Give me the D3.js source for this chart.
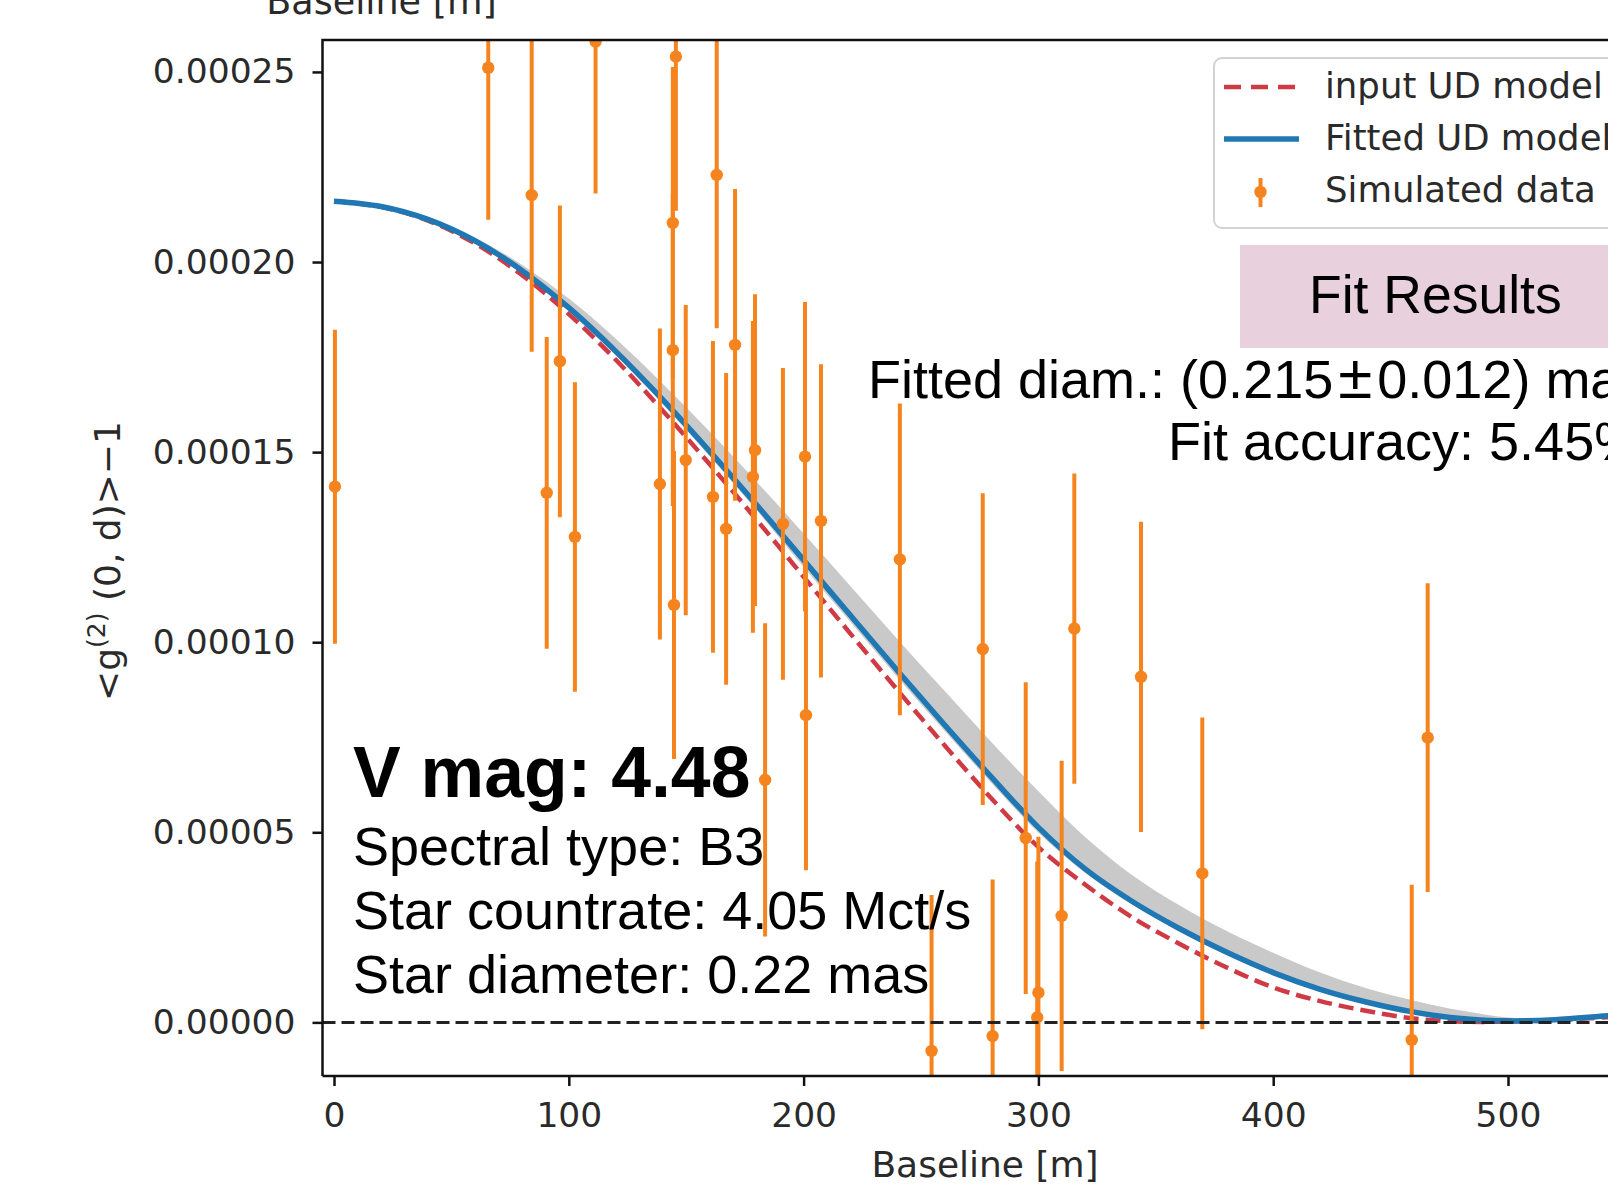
<!DOCTYPE html>
<html><head><meta charset="utf-8">
<script src="https://cdn.jsdelivr.net/npm/d3@7"></script>
<style>body{margin:0;background:#fff;} svg{display:block;background:#fff;}</style>
</head><body>
<svg id="chart" width="1608" height="1187"></svg>
<script>
// ---- Data ----
const baseline = [0.4, 65.7, 84.2, 90.6, 96.2, 102.6, 111.4, 138.8, 144.3, 144.3, 144.8, 145.6, 149.8,
  161.4, 163.0, 167.0, 170.8, 178.4, 179.3, 183.6, 191.2, 200.6, 201.0, 207.4, 241.0, 254.5,
  276.3, 280.5, 294.6, 299.5, 300.0, 309.9, 315.3, 343.7, 369.8, 459.0, 465.8];
const g2 = [1.409e-4, 2.511e-4, 2.176e-4, 1.393e-4, 1.739e-4, 1.277e-4, 2.580e-4, 1.416e-4, 2.103e-4,
  1.768e-4, 1.098e-4, 2.540e-4, 1.479e-4, 1.382e-4, 2.229e-4, 1.298e-4, 1.782e-4, 1.435e-4, 1.505e-4,
  0.638e-4, 1.311e-4, 1.488e-4, 0.808e-4, 1.319e-4, 1.218e-4, -0.075e-4, 0.982e-4, -0.036e-4,
  0.485e-4, 0.013e-4, 0.078e-4, 0.280e-4, 1.036e-4, 0.909e-4, 0.392e-4, -0.046e-4, 0.749e-4];
const g2err = [4.13e-5, 4.0e-5, 4.12e-5, 4.1e-5, 4.1e-5, 4.07e-5, 4.0e-5, 4.09e-5, 4.1e-5, 4.1e-5,
  4.05e-5, 4.05e-5, 4.08e-5, 4.1e-5, 4.03e-5, 4.1e-5, 4.1e-5, 4.1e-5, 4.1e-5, 4.12e-5, 4.1e-5,
  4.07e-5, 4.08e-5, 4.12e-5, 4.1e-5, 4.1e-5, 4.1e-5, 4.12e-5, 4.1e-5, 4.1e-5, 4.1e-5, 4.08e-5,
  4.08e-5, 4.08e-5, 4.1e-5, 4.08e-5, 4.06e-5];

const curveX = [0,20,40,60,80,100,120,140,160,180,200,220,240,260,280,300,320,340,360,380,400,420,440,460,480,500,520,543];
const inputModel = [2.160,2.145,2.109,2.049,1.966,1.863,1.743,1.609,1.468,1.322,1.172,1.022,0.874,0.729,0.589,0.461,0.362,0.276,0.207,0.145,0.092,0.056,0.030,0.010,0.002,0.002,0.006,0.014].map(v => v*1e-4);
const fitModel = [2.160,2.146,2.112,2.056,1.978,1.880,1.765,1.638,1.502,1.361,1.216,1.070,0.925,0.783,0.645,0.513,0.403,0.318,0.247,0.185,0.131,0.087,0.053,0.027,0.010,0.004,0.007,0.018].map(v => v*1e-4);
const fitLower = [2.160,2.146,2.110,2.052,1.971,1.871,1.755,1.626,1.489,1.347,1.198,1.053,0.908,0.767,0.630,0.499,0.393,0.310,0.240,0.178,0.125,0.083,0.049,0.024,0.008,0.003,0.006,0.017].map(v => v*1e-4);
const fitUpper = [2.160,2.147,2.115,2.064,1.993,1.904,1.798,1.680,1.554,1.422,1.286,1.147,1.008,0.872,0.737,0.608,0.487,0.387,0.308,0.241,0.183,0.131,0.089,0.057,0.031,0.013,0.011,0.021].map(v => v*1e-4);

const xTicks = [0, 100, 200, 300, 400, 500];
const yTicks = [0, 0.00005, 0.00010, 0.00015, 0.00020, 0.00025];
const legendLabels = ["input UD model", "Fitted UD model", "Simulated data"];
const starInfo = ["Spectral type: B3", "Star countrate: 4.05 Mct/s", "Star diameter: 0.22 mas"];

// ---- Layout ----
const svg = d3.select("#chart");
const L = 322.5, T = 40, B = 1076;
const x = d3.scaleLinear().domain([-4.9, 560]).range([L, L + 564.9 * 2.348]);
const y = d3.scaleLinear().domain([-0.0000141, 0.0002584]).range([B, T]);

const orange = "#f5841f", blue = "#1f77b4", red = "#d03a45";
const dejavu = "'DejaVu Sans', sans-serif";
const helv = "'Liberation Sans', Arial, Helvetica, sans-serif";

svg.append("defs").append("clipPath").attr("id", "plotclip")
  .append("rect").attr("x", L).attr("y", T).attr("width", 1400).attr("height", B - T);

const plot = svg.append("g").attr("clip-path", "url(#plotclip)");

// band and model curves
const curve = curveX.map((d, i) => ({x: d, inp: inputModel[i], fit: fitModel[i], lo: fitLower[i], hi: fitUpper[i]}));
plot.append("path").datum(curve)
  .attr("d", d3.area().x(d => x(d.x)).y0(d => y(d.lo)).y1(d => y(d.hi)).curve(d3.curveCatmullRom))
  .attr("fill", "#c9c9c9").attr("stroke", "none");
plot.append("path").datum(curve)
  .attr("d", d3.line().x(d => x(d.x)).y(d => y(d.inp)).curve(d3.curveCatmullRom))
  .attr("fill", "none").attr("stroke", red).attr("stroke-width", 4.5).attr("stroke-dasharray", "15,7");
plot.append("path").datum(curve)
  .attr("d", d3.line().x(d => x(d.x)).y(d => y(d.fit)).curve(d3.curveCatmullRom))
  .attr("fill", "none").attr("stroke", blue).attr("stroke-width", 5.5);

// error bars
const pts = baseline.map((b, i) => ({x: b, v: g2[i], e: g2err[i]}));
const eb = plot.append("g").selectAll("g").data(pts).join("g");
eb.append("line")
  .attr("x1", d => x(d.x)).attr("x2", d => x(d.x))
  .attr("y1", d => y(d.v - d.e)).attr("y2", d => y(d.v + d.e))
  .attr("stroke", orange).attr("stroke-width", 4);
eb.append("circle").attr("cx", d => x(d.x)).attr("cy", d => y(d.v)).attr("r", 6.2).attr("fill", orange);

// zero line
plot.append("line").attr("x1", L).attr("x2", 1700).attr("y1", y(0)).attr("y2", y(0))
  .attr("stroke", "#222").attr("stroke-width", 3).attr("stroke-dasharray", "13,6");

// axes
const yAxis = svg.append("g").attr("transform", `translate(${L},0)`)
  .call(d3.axisLeft(y).tickValues(yTicks).tickFormat(d3.format(".5f")).tickSize(10).tickPadding(17));
const xAxis = svg.append("g").attr("transform", `translate(0,${B})`)
  .call(d3.axisBottom(x).tickValues(xTicks).tickFormat(d3.format("d")).tickSize(10).tickPadding(17));
[yAxis, xAxis].forEach(a => {
  a.select(".domain").remove();
  a.selectAll(".tick line").attr("stroke", "#111").attr("stroke-width", 2.5);
  a.selectAll(".tick text").attr("font-family", dejavu).attr("font-size", 34.5).attr("fill", "#2a2a2a");
});

// spines
svg.append("path").attr("d", `M${L},${B} L${L},${T} L1700,${T}`).attr("fill", "none").attr("stroke", "#111").attr("stroke-width", 2.5);
svg.append("line").attr("x1", L).attr("x2", 1700).attr("y1", B).attr("y2", B).attr("stroke", "#111").attr("stroke-width", 2.5);

// axis labels
svg.append("text").attr("x", 985).attr("y", 1177).attr("text-anchor", "middle")
  .attr("font-family", dejavu).attr("font-size", 36).attr("fill", "#2a2a2a").text("Baseline [m]");
svg.append("text").attr("x", 381.5).attr("y", 14).attr("text-anchor", "middle")
  .attr("font-family", dejavu).attr("font-size", 36.5).attr("fill", "#2a2a2a").text("Baseline [m]");
const yl = svg.append("text").attr("transform", "translate(120,561) rotate(-90)").attr("text-anchor", "middle")
  .attr("font-family", dejavu).attr("font-size", 36).attr("fill", "#2a2a2a");
yl.append("tspan").text("<g");
yl.append("tspan").attr("dy", -15).attr("font-size", 25).text("(2)");
yl.append("tspan").attr("dy", 15).text(" (0, d)>\u22121");

// legend
const lg = svg.append("g");
lg.append("rect").attr("x", 1214).attr("y", 58).attr("width", 500).attr("height", 170).attr("rx", 8)
  .attr("fill", "#fff").attr("fill-opacity", 0.8).attr("stroke", "#d3d3d3").attr("stroke-width", 2);
lg.append("line").attr("x1", 1224).attr("x2", 1299).attr("y1", 87).attr("y2", 87)
  .attr("stroke", red).attr("stroke-width", 4.5).attr("stroke-dasharray", "17,10");
lg.append("line").attr("x1", 1224).attr("x2", 1299).attr("y1", 139).attr("y2", 139)
  .attr("stroke", blue).attr("stroke-width", 5.5);
lg.append("line").attr("x1", 1260.5).attr("x2", 1260.5).attr("y1", 178).attr("y2", 207)
  .attr("stroke", orange).attr("stroke-width", 4);
lg.append("circle").attr("cx", 1260.5).attr("cy", 192).attr("r", 6.2).attr("fill", orange);
lg.selectAll("text.lab").data(legendLabels).join("text").attr("class", "lab")
  .attr("x", 1325).attr("y", (d, i) => [98, 150, 202][i])
  .attr("font-family", dejavu).attr("font-size", 35.5).attr("fill", "#2a2a2a").text(d => d);

// fit results box
svg.append("rect").attr("x", 1240).attr("y", 245).attr("width", 420).attr("height", 103).attr("fill", "#e8d1dc");
svg.append("text").attr("x", 1309).attr("y", 313).attr("font-family", helv).attr("font-size", 53.5).attr("fill", "#000").text("Fit Results");
const fd = svg.append("text").attr("x", 868).attr("y", 398).attr("font-family", helv).attr("font-size", 54).attr("fill", "#000");
fd.append("tspan").text("Fitted diam.: (0.215");
fd.append("tspan").attr("dx", 5).attr("font-size", 62).text("\u00b1");
fd.append("tspan").attr("dx", 5).text("0.012) mas");
svg.append("text").attr("x", 1168).attr("y", 460).attr("font-family", helv).attr("font-size", 54).attr("fill", "#000").text("Fit accuracy: 5.45%");

// star info
svg.append("text").attr("x", 353).attr("y", 797).attr("font-family", helv).attr("font-weight", "bold")
  .attr("font-size", 71.5).attr("fill", "#000").text("V mag: 4.48");
svg.selectAll("text.info").data(starInfo).join("text").attr("class", "info")
  .attr("x", 353).attr("y", (d, i) => [865, 929, 993][i])
  .attr("font-family", helv).attr("font-size", 54).attr("fill", "#000").text(d => d);
</script>
</body></html>
